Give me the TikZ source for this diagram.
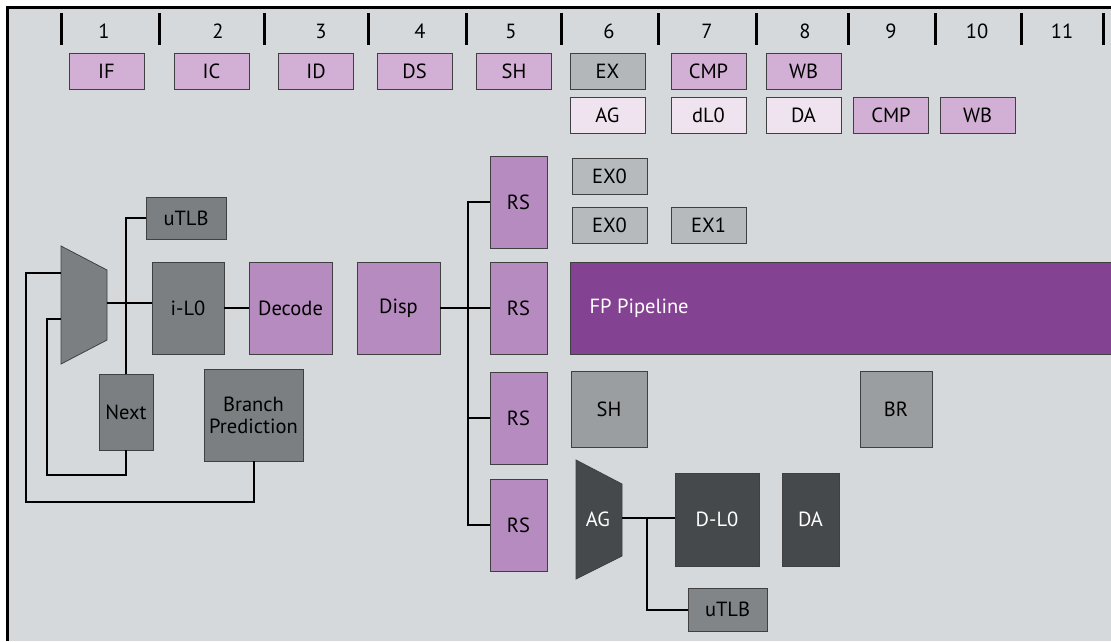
\documentclass[tikz,border=0pt]{standalone}
\usepackage{fontspec}
\setmainfont{PT Sans}
\usetikzlibrary{positioning,calc}
\definecolor{bggray}{HTML}{D5D9DC}
\definecolor{stagepurple}{HTML}{D2AFD5}
\definecolor{stagepink}{HTML}{EFE3EF}
\definecolor{exgray}{HTML}{B3B7B9}
\definecolor{blockpurple}{HTML}{B68BBF}
\definecolor{fppurple}{HTML}{844392}
\definecolor{unitgray}{HTML}{7B7F82}
\definecolor{lightunit}{HTML}{B6BABC}
\definecolor{midunit}{HTML}{9A9EA0}
\definecolor{darkunit}{HTML}{45494B}
\definecolor{tlbgray}{HTML}{818587}

\begin{document}
\begin{tikzpicture}[x=1pt,y=-1pt,
  font=\fontsize{20.5}{22}\selectfont,
  box/.style={draw=black!75,line width=0.8pt,inner sep=0pt,text=black},
  stage/.style={box,fill=stagepurple,minimum width=75pt,minimum height=36pt},
  block/.style={box,minimum width=83pt,minimum height=92pt},
  rs/.style={box,fill=blockpurple,minimum width=57pt,minimum height=92pt},
  wire/.style={line width=2pt,black}]
\useasboundingbox (0,0) rectangle (1111,641);
% frame
\fill[bggray] (6,7) rectangle (1111,641);
\draw[line width=3pt] (7,641) -- (7,7) -- (1111,7);
% stage numbers
\foreach \x in {61,159,264,368,466,561,658,756,848,935,1021,1103}
  \draw[line width=3pt] (\x,13) -- (\x,45);
\foreach \x/\n in {104/1,218/2,321/3,420/4,511/5,609/6,707/7,805/8,891/9,977/10,1062/11}
  \node (num\n) at (\x,31) {\n};
% pipeline stages
\node[stage] (sIF) at (106.5,71) {IF};
\node[stage] (sIC) at (211.5,71) {IC};
\node[stage] (sID) at (316,71) {ID};
\node[stage] (sDS) at (414.5,71) {DS};
\node[stage] (sSH) at (514,71) {SH};
\node[stage,fill=exgray] (sEX) at (607.5,71) {EX};
\node[stage] (sCMP) at (708.5,71) {CMP};
\node[stage] (sWB) at (803.5,71) {WB};
\node[stage,fill=stagepink] (sAG) at (607.5,115) {AG};
\node[stage,fill=stagepink] (sdL) at (708.5,115) {dL0};
\node[stage,fill=stagepink] (sDA) at (803.5,115) {DA};
\node[stage] (sCMPb) at (891,115) {CMP};
\node[stage] (sWBb) at (977.5,115) {WB};
% fetch
\fill[unitgray,draw=black!75,line width=0.8pt] (61,246) -- (107,270) -- (107,340) -- (61,364) -- cycle;
\coordinate (muxout) at (107,303);
\coordinate (muxinA) at (61,273);
\coordinate (muxinB) at (61,319);
\node[box,fill=unitgray,minimum width=80pt,minimum height=42pt] (itlb) at (186,218) {uTLB};
\node[block,fill=unitgray,minimum width=72pt] (il0) at (188,308) {i-L0};
\node[block,fill=blockpurple] (decode) at (290.5,308) {Decode};
\node[block,fill=blockpurple] (disp) at (398.5,308) {Disp};
\node[box,fill=unitgray,minimum width=54pt,minimum height=76pt] (next) at (126,412) {Next};
\node[box,fill=unitgray,minimum width=99pt,minimum height=92pt,align=center] (bp) at (253.5,415) {Branch\\Prediction};
% reservation stations
\node[rs] (rsA) at (518.5,202) {RS};
\node[rs] (rsB) at (518.5,308) {RS};
\node[rs] (rsC) at (518.5,418) {RS};
\node[rs] (rsD) at (518.5,525) {RS};
\coordinate (bus) at (468,308);
% execution units
\node[box,fill=lightunit,minimum width=75pt,minimum height=36pt] (exA) at (609.5,176) {EX0};
\node[box,fill=lightunit,minimum width=75pt,minimum height=36pt] (exB) at (609.5,225) {EX0};
\node[box,fill=lightunit,minimum width=75pt,minimum height=36pt] (exC) at (708.5,225) {EX1};
\fill[fppurple,draw=black!75,line width=0.8pt] (570,262) rectangle (1115,354);
\node[anchor=west,text=white] (fp) at (586,308) {FP Pipeline};
\node[box,fill=midunit,minimum width=76pt,minimum height=76pt] (sh) at (609,409) {SH};
\node[box,fill=midunit,minimum width=72pt,minimum height=76pt] (br) at (896,409) {BR};
% load/store
\fill[darkunit,draw=black!75,line width=0.8pt] (576,460) -- (622,484) -- (622,556) -- (576,579) -- cycle;
\node[text=white] (ag) at (598,519) {AG};
\coordinate (agout) at (622,518);
\coordinate (agj) at (647,518);
\node[box,fill=darkunit,text=white,minimum width=84pt,minimum height=93pt] (dl0) at (717,519.5) {D-L0};
\node[box,fill=darkunit,text=white,minimum width=57pt,minimum height=93pt] (da) at (810.5,519.5) {DA};
\node[box,fill=tlbgray,minimum width=79pt,minimum height=43pt] (dtlb) at (727.5,609.5) {uTLB};
% wires
\draw[wire] (muxout) -- (muxout -| il0.west);
\draw[wire] (itlb.west) -| (next.north);
\draw[wire] (il0.east) -- (decode.west);
\coordinate (loopA) at (47,475);
\coordinate (loopB) at (26,502);
\draw[wire] (next.south) |- (loopA) |- (muxinB);
\draw[wire] (bp.south) |- (loopB) |- (muxinA);
\draw[wire] (disp.east) -- (rsB.west);
\draw[wire] (rsA.west) -| (bus) |- (rsD.west);
\draw[wire] (rsC.west) -- (rsC.west -| bus);
\draw[wire] (agout) -- (agout -| dl0.west);
\draw[wire] (agj) |- (dtlb.west);
\end{tikzpicture}
\end{document}
